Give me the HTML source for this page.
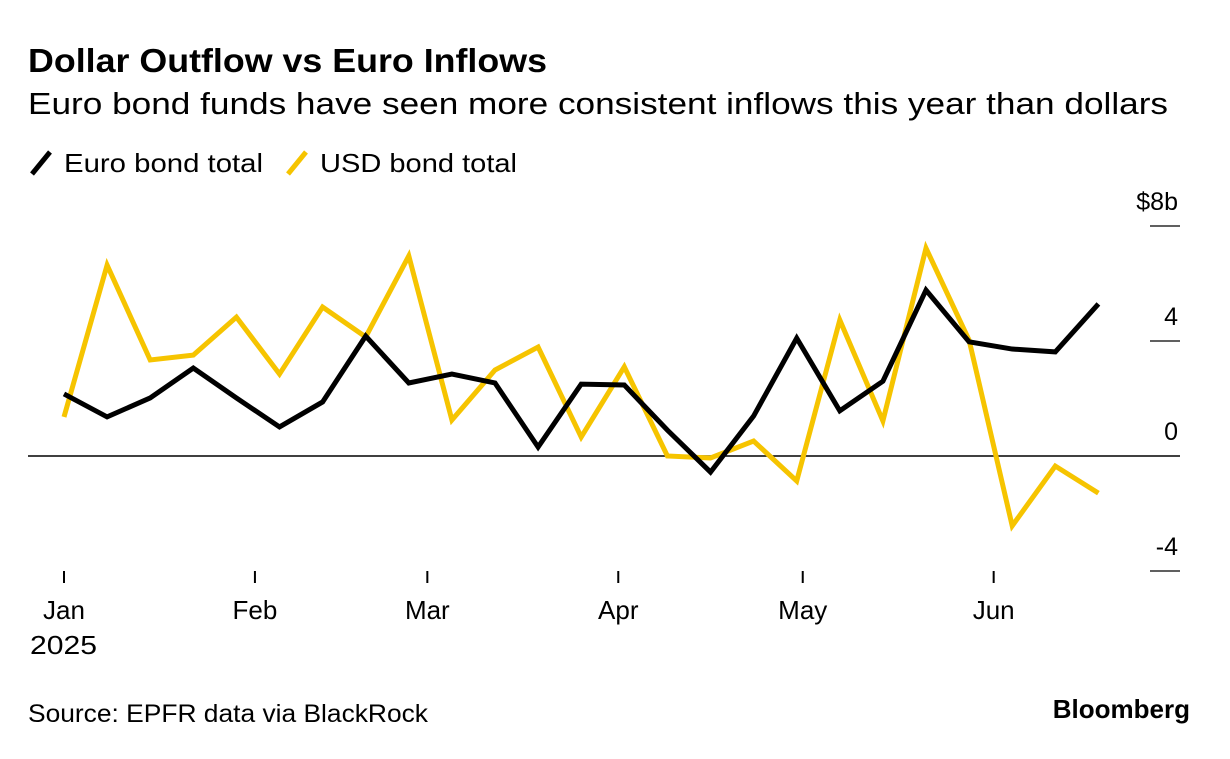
<!DOCTYPE html>
<html><head><meta charset="utf-8"><style>
body{margin:0;background:#fff;font-family:"Liberation Sans",sans-serif;}
</style></head><body>
<svg width="1230" height="754" xmlns="http://www.w3.org/2000/svg" font-family="Liberation Sans, sans-serif">
<text x="28" y="72" font-size="33" font-weight="bold" fill="#000" textLength="519" lengthAdjust="spacingAndGlyphs">Dollar Outflow vs Euro Inflows</text>
<text x="28" y="114" font-size="31" fill="#000" textLength="1140" lengthAdjust="spacingAndGlyphs">Euro bond funds have seen more consistent inflows this year than dollars</text>
<g><line x1="32" y1="174" x2="50" y2="152" stroke="#000" stroke-width="5"/><text x="64" y="172" font-size="26" textLength="199" lengthAdjust="spacingAndGlyphs">Euro bond total</text></g>
<g><line x1="288" y1="174" x2="306" y2="152" stroke="#f6c400" stroke-width="5"/><text x="320" y="172" font-size="26" textLength="197" lengthAdjust="spacingAndGlyphs">USD bond total</text></g>
<g id="axes"></g>
<g id="series"></g>
<text x="28" y="722" font-size="25" fill="#000" textLength="400" lengthAdjust="spacingAndGlyphs">Source: EPFR data via BlackRock</text>
<text x="1190" y="718" font-size="26" font-weight="bold" text-anchor="end" fill="#000">Bloomberg</text>
</svg>
<script>
const weeks=[0,1,2,3,4,5,6,7,8,9,10,11,12,13,14,15,16,17,18,19,20,21,22,23,24];
const euro=[2.16,1.36,2.02,3.06,2.02,1.01,1.88,4.17,2.54,2.85,2.54,0.31,2.5,2.47,0.9,-0.56,1.39,4.1,1.57,2.6,5.77,3.97,3.72,3.62,5.29];
const usd=[1.36,6.64,3.34,3.51,4.83,2.85,5.18,4.14,6.96,1.25,2.99,3.79,0.66,3.1,0,-0.07,0.52,-0.87,4.73,1.22,7.23,4.03,-2.43,-0.35,-1.29];
const yTicks=[8,4,0,-4];
const yLabels=["$8b","4","0","-4"];
const monthLabels=["Jan","Feb","Mar","Apr","May","Jun"];
const monthWeekPos=[0,4.43,8.43,12.86,17.14,21.57];
const NS="http://www.w3.org/2000/svg";
function xs(w){return 64+w*43.1;}
function ys(v){return 456-v*28.75;}
const ax=document.getElementById('axes');
yTicks.forEach((t,i)=>{
 const l=document.createElementNS(NS,'line');
 l.setAttribute('x1',t===0?28:1150);l.setAttribute('x2',1180);
 l.setAttribute('y1',ys(t));l.setAttribute('y2',ys(t));
 l.setAttribute('stroke','#000');l.setAttribute('stroke-width',t===0?1.5:1.2);
 
 
 ax.appendChild(l);
 const tx=document.createElementNS(NS,'text');
 tx.setAttribute('x',1178);tx.setAttribute('y',ys(t)-16);tx.setAttribute('text-anchor','end');tx.setAttribute('font-size','25');
 tx.textContent=yLabels[i];
 
 
 ax.appendChild(tx);
});
monthLabels.forEach((m,i)=>{
 const x=xs(monthWeekPos[i]);
 const l=document.createElementNS(NS,'line');
 l.setAttribute('x1',x);l.setAttribute('x2',x);l.setAttribute('y1',571);l.setAttribute('y2',583);
 l.setAttribute('stroke','#000');l.setAttribute('stroke-width',2);
 
 
 ax.appendChild(l);
 const tx=document.createElementNS(NS,'text');
 tx.setAttribute('x',x);tx.setAttribute('y',619);tx.setAttribute('text-anchor','middle');tx.setAttribute('font-size','26');
 tx.textContent=m;
 
 
 ax.appendChild(tx);
});
const yr=document.createElementNS(NS,'text');
yr.setAttribute('x',30);yr.setAttribute('y',654);yr.setAttribute('font-size','26');yr.setAttribute('textLength','67');yr.setAttribute('lengthAdjust','spacingAndGlyphs');yr.textContent='2025';


ax.appendChild(yr);
const sg=document.getElementById('series');
function line(vals,color,name){
 const p=document.createElementNS(NS,'polyline');
 p.setAttribute('points',vals.map((v,i)=>xs(weeks[i])+','+ys(v)).join(' '));
 p.setAttribute('fill','none');p.setAttribute('stroke',color);p.setAttribute('stroke-width',5);p.setAttribute('stroke-linejoin','miter');
 
 
 sg.appendChild(p);
}
line(usd,'#f6c400','usd-bond-line');
line(euro,'#000','euro-bond-line');
</script>
</body></html>
